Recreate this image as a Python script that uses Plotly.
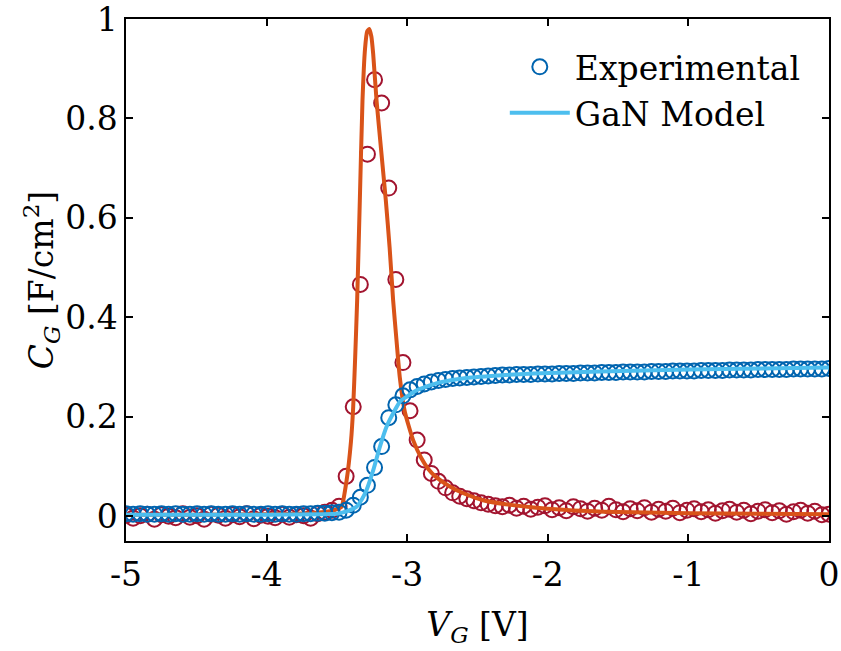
import plotly.graph_objects as go

# Measurement grid (V_G, volts)
v_exp = [-5.0, -4.9495, -4.899, -4.8485, -4.798, -4.7475, -4.697, -4.6465, -4.596, -4.5455,
         -4.4949, -4.4444, -4.3939, -4.3434, -4.2929, -4.2424, -4.1919, -4.1414, -4.0909, -4.0404,
         -3.9899, -3.9394, -3.8889, -3.8384, -3.7879, -3.7374, -3.6869, -3.6364, -3.5859, -3.5354,
         -3.4848, -3.4343, -3.3838, -3.3333, -3.2828, -3.2323, -3.1818, -3.1313, -3.0808, -3.0303,
         -2.9798, -2.9293, -2.8788, -2.8283, -2.7778, -2.7273, -2.6768, -2.6263, -2.5758, -2.5253,
         -2.4747, -2.4242, -2.3737, -2.3232, -2.2727, -2.2222, -2.1717, -2.1212, -2.0707, -2.0202,
         -1.9697, -1.9192, -1.8687, -1.8182, -1.7677, -1.7172, -1.6667, -1.6162, -1.5657, -1.5152,
         -1.4646, -1.4141, -1.3636, -1.3131, -1.2626, -1.2121, -1.1616, -1.1111, -1.0606, -1.0101,
         -0.9596, -0.9091, -0.8586, -0.8081, -0.7576, -0.7071, -0.6566, -0.6061, -0.5556, -0.5051,
         -0.4545, -0.404, -0.3535, -0.303, -0.2525, -0.202, -0.1515, -0.101, -0.0505, 0.0]

# Experimental peak-shaped capacitance (red circles)
c_peak_exp = [0.002, -0.004, 0.001, 0.004, -0.006, 0.003, 0.0, -0.003, 0.005, -0.002,
              0.001, -0.006, 0.004, 0.002, -0.004, 0.003, -0.001, 0.005, -0.005, 0.002,
              0.0, -0.003, 0.004, -0.002, 0.003, 0.001, -0.004, 0.005, 0.008, 0.012,
              0.02, 0.08, 0.22, 0.466, 0.728, 0.878, 0.831, 0.66, 0.476, 0.309,
              0.212, 0.153, 0.113, 0.086, 0.07, 0.057, 0.047, 0.04, 0.035, 0.031,
              0.027, 0.024, 0.021, 0.019, 0.022, 0.016, 0.02, 0.014, 0.018, 0.021,
              0.013, 0.017, 0.011, 0.019, 0.015, 0.01, 0.016, 0.012, 0.02, 0.013,
              0.009, 0.015, 0.011, 0.017, 0.008, 0.014, 0.01, 0.016, 0.007, 0.012,
              0.015, 0.009, 0.013, 0.006, 0.011, 0.014, 0.008, 0.012, 0.005, 0.01,
              0.013, 0.007, 0.011, 0.004, 0.009, 0.012, 0.006, 0.01, 0.003, 0.004]

# Experimental gate capacitance (blue circles)
c_gate_exp = [0.005, 0.004, 0.005, 0.004, 0.004, 0.005, 0.004, 0.005, 0.004, 0.004,
              0.005, 0.004, 0.005, 0.004, 0.004, 0.005, 0.004, 0.005, 0.004, 0.004,
              0.005, 0.004, 0.005, 0.004, 0.004, 0.005, 0.005, 0.006, 0.006, 0.007,
              0.008, 0.012, 0.022, 0.038, 0.062, 0.098, 0.14, 0.198, 0.224, 0.242,
              0.254, 0.261, 0.266, 0.27, 0.273, 0.275, 0.277, 0.278, 0.279, 0.28,
              0.281, 0.282, 0.283, 0.284, 0.284, 0.285, 0.285, 0.285, 0.286, 0.286,
              0.286, 0.287, 0.287, 0.287, 0.288, 0.288, 0.288, 0.289, 0.289, 0.289,
              0.29, 0.29, 0.29, 0.29, 0.291, 0.291, 0.291, 0.292, 0.292, 0.292,
              0.292, 0.293, 0.293, 0.293, 0.293, 0.294, 0.294, 0.294, 0.294, 0.295,
              0.295, 0.295, 0.295, 0.295, 0.296, 0.296, 0.296, 0.296, 0.296, 0.297]

# Model curves
v_peak_model = [-5.0, -4.5, -4.0, -3.7, -3.55, -3.5, -3.467, -3.431, -3.4, -3.384,
                -3.37, -3.356, -3.337, -3.318, -3.3, -3.285, -3.27, -3.255, -3.242, -3.218,
                -3.185, -3.152, -3.125, -3.1, -3.075, -3.053, -3.017, -2.958, -2.9, -2.85,
                -2.8, -2.7, -2.6, -2.46, -2.3, -2.0, -1.6, -1.0, -0.5, 0.0]
c_peak_model = [0.003, 0.003, 0.004, 0.006, 0.01, 0.014, 0.019, 0.072, 0.15, 0.22,
                0.32, 0.434, 0.635, 0.836, 0.94, 0.975, 0.98, 0.965, 0.93, 0.836,
                0.735, 0.635, 0.54, 0.434, 0.35, 0.28, 0.21, 0.153, 0.117, 0.095,
                0.08, 0.06, 0.046, 0.032, 0.024, 0.015, 0.009, 0.006, 0.005, 0.004]

v_gate_model = [-5.0, -4.0, -3.6, -3.5, -3.45, -3.4, -3.36, -3.32, -3.29, -3.242,
                -3.195, -3.147, -3.088, -3.053, -3.005, -2.934, -2.887, -2.816, -2.768, -2.58,
                -2.3, -2.105, -1.63, -1.0, -0.5, 0.0]
c_gate_model = [0.003, 0.003, 0.004, 0.005, 0.008, 0.013, 0.019, 0.035, 0.052, 0.092,
                0.139, 0.18, 0.213, 0.23, 0.24, 0.253, 0.258, 0.265, 0.269, 0.278,
                0.284, 0.287, 0.291, 0.295, 0.297, 0.299]

x_ticks = [-5, -4, -3, -2, -1, 0]
x_tick_text = ["-5", "-4", "-3", "-2", "-1", "0"]
y_ticks = [0, 0.2, 0.4, 0.6, 0.8, 1]
y_tick_text = ["0", "0.2", "0.4", "0.6", "0.8", "1"]

FONT = "DejaVu Serif"
FS = 33
RED = "#A2142F"
ORANGE = "#D95319"
BLUE = "#0064AF"
LIGHTBLUE = "#4DBEEE"

fig = go.Figure()
fig.add_trace(go.Scatter(x=v_exp, y=c_peak_exp, mode="markers", showlegend=False,
                         marker=dict(symbol="circle-open", size=15, color=RED,
                                     line=dict(width=2, color=RED))))
fig.add_trace(go.Scatter(x=v_peak_model, y=c_peak_model, mode="lines", showlegend=False,
                         line=dict(color=ORANGE, width=4, shape="spline", smoothing=0.5)))
fig.add_trace(go.Scatter(x=v_exp, y=c_gate_exp, mode="markers", name="Experimental",
                         marker=dict(symbol="circle-open", size=15, color=BLUE,
                                     line=dict(width=2, color=BLUE))))
fig.add_trace(go.Scatter(x=v_gate_model, y=c_gate_model, mode="lines", name="GaN Model",
                         line=dict(color=LIGHTBLUE, width=4, shape="spline", smoothing=0.5)))

axis_common = dict(showline=True, linecolor="black", linewidth=1.5, mirror="ticks",
                   ticks="inside", ticklen=7, tickwidth=1.5, tickcolor="black",
                   showgrid=False, zeroline=False, automargin=False,
                   ticklabeloverflow="allow",
                   tickfont=dict(family=FONT, size=FS, color="black"))

fig.update_xaxes(range=[-5, 0], tickvals=x_ticks, ticktext=x_tick_text,
                 ticklabelstandoff=4,
                 title=dict(text="<i>V</i><sub><i>G</i></sub> [V]", standoff=20,
                            font=dict(family=FONT, size=FS, color="black")),
                 **axis_common)
fig.update_yaxes(range=[-0.05, 1], tickvals=y_ticks, ticktext=y_tick_text,
                 title=dict(text="<i>C</i><sub><i>G</i></sub> [F/cm<sup>2</sup>]", standoff=0,
                            font=dict(family=FONT, size=FS, color="black")),
                 **axis_common)

fig.update_layout(
    width=841, height=651,
    margin=dict(l=126, r=12, t=19, b=110),
    plot_bgcolor="white", paper_bgcolor="white",
    legend=dict(x=0.967, y=0.962, xanchor="right", yanchor="top",
                bgcolor="rgba(0,0,0,0)", borderwidth=0,
                font=dict(family=FONT, size=FS, color="black"),
                itemwidth=60, tracegroupgap=0),
)

# Remove the browser's default body margin so the figure fills the window exactly.
fig.write_html("out.html",
               config={"displayModeBar": False},
               post_script="document.body.style.margin='0';document.body.style.overflow='hidden';")
